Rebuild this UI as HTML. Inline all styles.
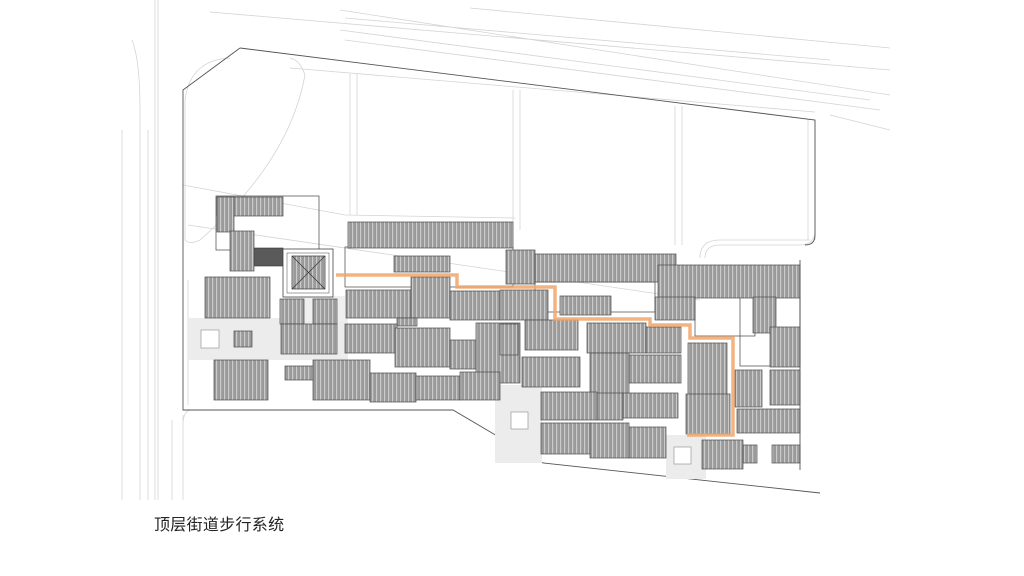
<!DOCTYPE html>
<html><head><meta charset="utf-8"><style>
html,body{margin:0;padding:0;background:#fff;width:1024px;height:576px;overflow:hidden}
.t{position:absolute;left:154px;top:511px;font:16px "Liberation Sans","Noto Sans CJK SC",sans-serif;color:#222;letter-spacing:0.3px}
</style></head><body>
<svg width="1024" height="576" viewBox="0 0 1024 576" style="position:absolute;left:0;top:0">
<defs>
<pattern id="r" width="4" height="10" patternUnits="userSpaceOnUse">
<rect width="4" height="10" fill="#9a9a9a"/><rect x="0" width="1.2" height="10" fill="#cacaca"/>
</pattern>
</defs>
<g fill="none" stroke="#d4d4d4" stroke-width="0.8">
<path d="M210,12 L890,70 M340,10 L890,95 M345,18 L830,60 M340,30 L870,100 M345,40 L880,110 M470,8 L890,48 M290,68 L815,112 M830,115 L890,130"/>
<path d="M155,0 V500 M158,0 V500 M132,40 Q140,60 140,110 V500 M122,130 V500 M172,500 V420 M148,130 V500"/>
<path d="M230,58 Q190,60 185,100 V240 Q190,245 200,240 Q290,160 305,75 Q300,60 290,58"/>
<path d="M350,74 V215 M357,74 V215 M513,90 V230 M520,90 V230 M675,106 V245 M682,106 V245 M808,120 V240 M815,120 V240"/>
<path d="M188,225 L700,300 M188,280 V405 M183,415 V500 M190,410 Q183,412 183,425"/>
<path d="M705,258 Q705,245 720,245 H800 M700,258 Q700,240 720,240 H810 M800,245 Q815,245 815,230"/>
<path d="M183,185 L345,215 L515,218"/>
</g>
<g fill="none" stroke="#555" stroke-width="0.9">
<path d="M240,48 L815,120 V235 Q815,245 805,245"/>
<path d="M240,48 L183,90 V185"/>
<path d="M183,185 V410 H453 L543,463 L820,493"/>
<path d="M800,260 V470"/>
</g>
<g fill="#ececec">
<rect x="188" y="318" width="160" height="42"/>
<rect x="495" y="385" width="47" height="78"/>
<rect x="666" y="435" width="40" height="44"/>
<rect x="285" y="296" width="60" height="25" fill="#efefef"/>
</g>
<g fill="#fff" stroke="#999" stroke-width="0.7">
<rect x="201" y="330" width="18" height="18"/><rect x="511" y="412" width="17" height="17"/><rect x="674" y="447" width="17" height="17"/>
</g>
<g fill="none" stroke="#444" stroke-width="0.7">
<rect x="216" y="196" width="103" height="54"/>
<rect x="345" y="247" width="168" height="40"/>
<rect x="535" y="282" width="120" height="30"/>
<rect x="695" y="296" width="60" height="40"/>
<rect x="740" y="296" width="60" height="70"/>
</g>
<rect x="254" y="248" width="29" height="18" fill="#5a5a5a" stroke="#333" stroke-width="0.6"/>
<rect x="283" y="249" width="50" height="48" fill="#fff" stroke="#444" stroke-width="0.8"/>
<rect x="287" y="253" width="42" height="40" fill="none" stroke="#444" stroke-width="0.5"/>
<rect x="292" y="256" width="33" height="33" fill="url(#r)" stroke="#333" stroke-width="0.7"/>
<path d="M292,256 L325,289 M325,256 L292,289" stroke="#333" stroke-width="0.7"/>
<g fill="url(#r)" stroke="#4a4a4a" stroke-width="0.7">
<rect x="217" y="197" width="66" height="19"/><rect x="217" y="197" width="17" height="35"/>
<rect x="230" y="231" width="24" height="40"/>
<rect x="205" y="277" width="65" height="41"/>
<rect x="280" y="299" width="24" height="25"/><rect x="313" y="299" width="24" height="25"/>
<rect x="281" y="324" width="56" height="30"/>
<rect x="234" y="331" width="18" height="16"/>
<rect x="346" y="290" width="65" height="28"/>
<rect x="411" y="277" width="39" height="41"/>
<rect x="450" y="291" width="50" height="29"/>
<rect x="345" y="324" width="52" height="29"/>
<rect x="397" y="318" width="20" height="8"/>
<rect x="395" y="328" width="55" height="39"/>
<rect x="450" y="340" width="27" height="29"/>
<rect x="476" y="323" width="44" height="60"/>
<rect x="214" y="360" width="54" height="40"/>
<rect x="285" y="366" width="28" height="14"/>
<rect x="313" y="360" width="57" height="40"/>
<rect x="370" y="373" width="46" height="29"/>
<rect x="416" y="376" width="44" height="24"/>
<rect x="460" y="372" width="40" height="28"/>
<rect x="348" y="222" width="165" height="26"/>
<rect x="394" y="256" width="56" height="16"/>
<rect x="506" y="250" width="29" height="34"/>
<rect x="535" y="254" width="141" height="28"/>
<rect x="658" y="265" width="142" height="33"/>
<rect x="655" y="297" width="40" height="23"/>
<rect x="500" y="290" width="48" height="30"/>
<rect x="560" y="296" width="51" height="19"/>
<rect x="500" y="324" width="18" height="31"/>
<rect x="525" y="320" width="53" height="30"/>
<rect x="587" y="323" width="59" height="30"/><rect x="646" y="327" width="35" height="26"/>
<rect x="522" y="357" width="58" height="30"/>
<rect x="590" y="353" width="39" height="42"/><rect x="629" y="355" width="52" height="28"/>
<rect x="541" y="392" width="56" height="28"/><rect x="597" y="393" width="26" height="27"/><rect x="623" y="393" width="55" height="25"/>
<rect x="688" y="343" width="39" height="57"/>
<rect x="686" y="394" width="44" height="40"/>
<rect x="735" y="370" width="27" height="37"/><rect x="770" y="370" width="30" height="35"/>
<rect x="737" y="409" width="63" height="24"/>
<rect x="753" y="297" width="23" height="36"/><rect x="770" y="327" width="30" height="40"/>
<rect x="541" y="423" width="50" height="31"/><rect x="590" y="423" width="39" height="35"/><rect x="629" y="427" width="37" height="31"/>
<rect x="702" y="440" width="41" height="29"/><rect x="743" y="445" width="14" height="18"/><rect x="772" y="445" width="28" height="18"/>
</g>
<path d="M336,275 H457 V287 H555 V319 H650 V325 H690 V338 H733 V435 H687" fill="none" stroke="#f0a66a" stroke-width="3.5" opacity="0.85"/>
</svg>
<div class="t">顶层街道步行系统</div>
</body></html>
